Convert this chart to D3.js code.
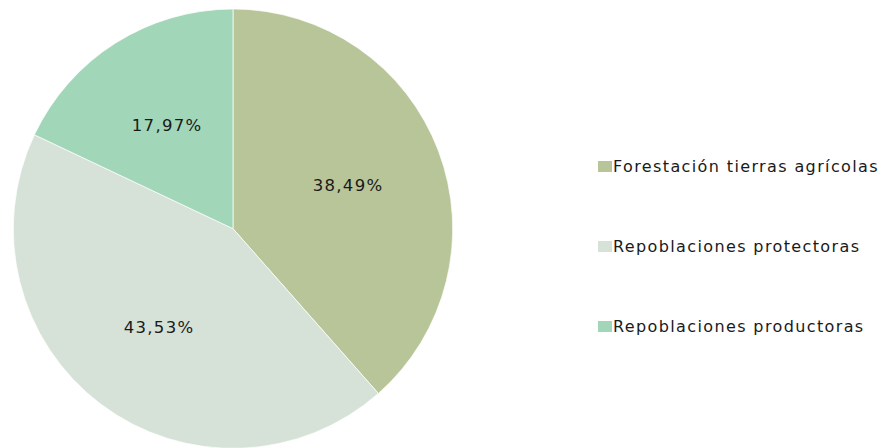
<!DOCTYPE html>
<html>
<head>
<meta charset="utf-8">
<script src="https://cdn.jsdelivr.net/npm/d3@7"></script>
<style>
  body { margin: 0; background: #fff; }
  svg text { font-family: "DejaVu Sans", Verdana, sans-serif; fill: #1a1a1a; }
</style>
</head>
<body>
<div id="chart"></div>
<script>
const categories = ["Forestación tierras agrícolas", "Repoblaciones protectoras", "Repoblaciones productoras"];
const values = [38.49, 43.53, 17.97];
const labels = ["38,49%", "43,53%", "17,97%"];
const colors = ["#b8c598", "#d6e2d7", "#a2d6b9"];

const width = 885, height = 448;
const cx = 233, cy = 228.7, r = 219.7;

const svg = d3.select("#chart").append("svg")
    .attr("width", width)
    .attr("height", height);

const pie = d3.pie().sort(null).value(d => d);
const arcs = pie(values);
const arc = d3.arc().innerRadius(0).outerRadius(r);
const labelArc = d3.arc().innerRadius(r * 0.56).outerRadius(r * 0.56);

const g = svg.append("g").attr("transform", `translate(${cx},${cy})`);

g.selectAll("path")
    .data(arcs)
    .enter()
    .append("path")
    .attr("d", arc)
    .attr("fill", (d, i) => colors[i])
    .attr("stroke", "#fff")
    .attr("stroke-width", 0.7);

g.selectAll("text")
    .data(arcs)
    .enter()
    .append("text")
    .attr("transform", d => `translate(${labelArc.centroid(d)})`)
    .attr("text-anchor", "middle")
    .attr("dy", "0.35em")
    .attr("font-size", 16.5)
    .attr("letter-spacing", 1.3)
    .text((d, i) => labels[i]);

const legend = svg.append("g").attr("transform", "translate(598,172)");
const item = legend.selectAll("g")
    .data(categories)
    .enter()
    .append("g")
    .attr("transform", (d, i) => `translate(0,${i * 80})`);

item.append("rect")
    .attr("x", 0).attr("y", -11)
    .attr("width", 14).attr("height", 11)
    .attr("fill", (d, i) => colors[i]);

item.append("text")
    .attr("x", 15)
    .attr("font-size", 16)
    .attr("letter-spacing", 1.38)
    .text(d => d);
</script>
</body>
</html>
